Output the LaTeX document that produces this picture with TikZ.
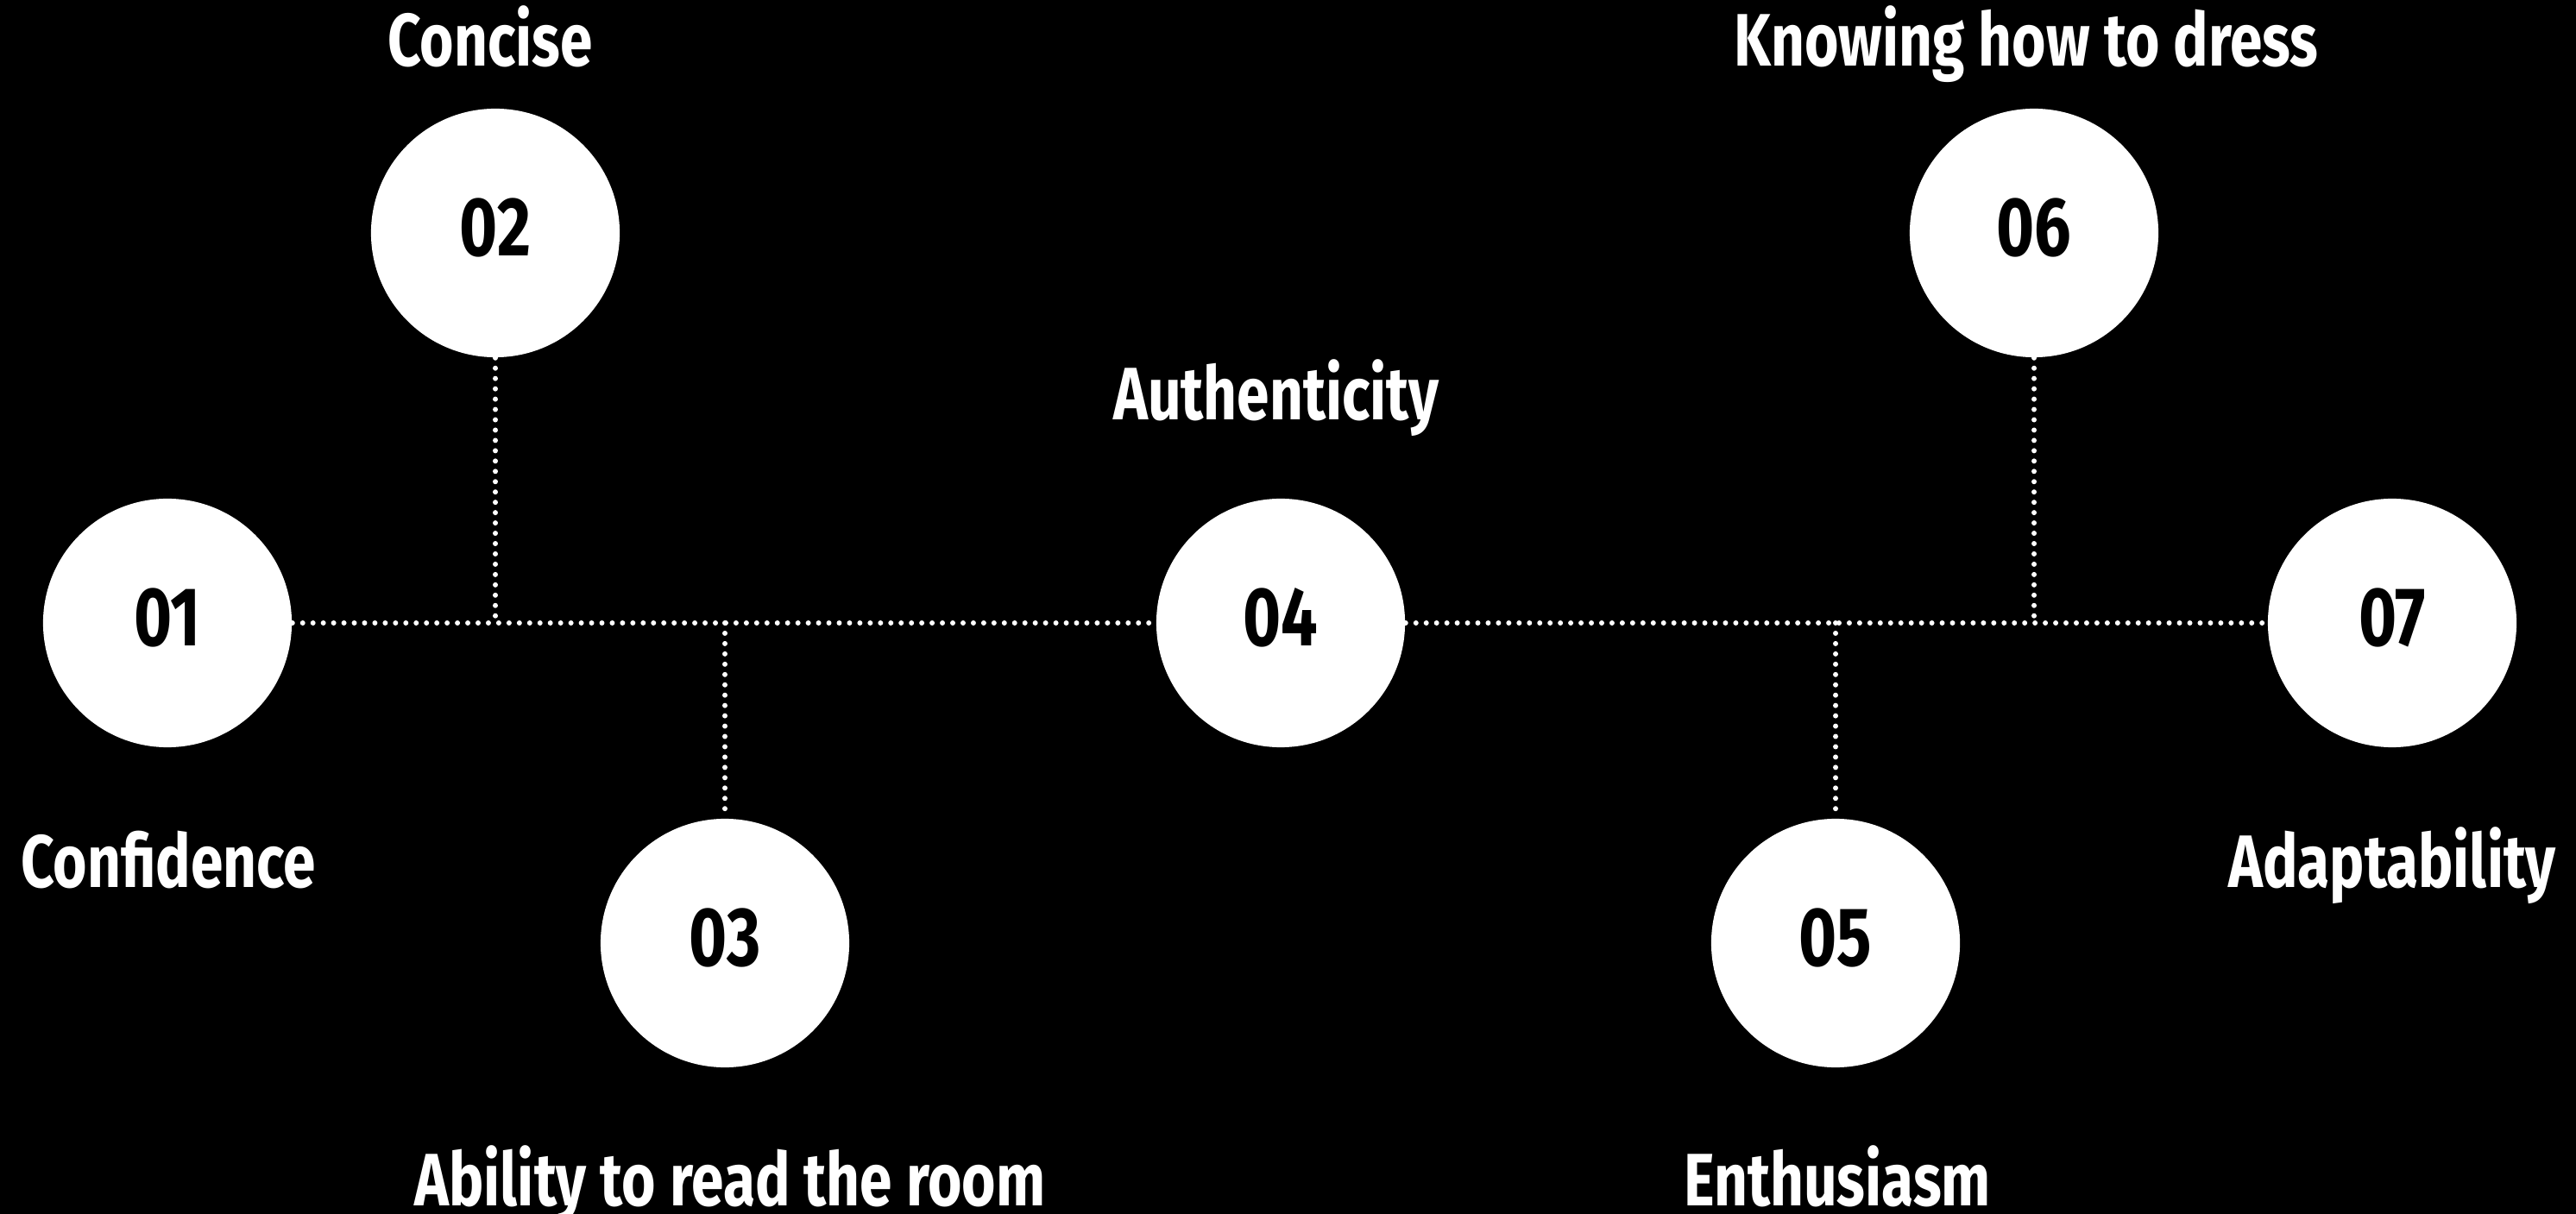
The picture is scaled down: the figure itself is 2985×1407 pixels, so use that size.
\documentclass[tikz,border=0pt]{standalone}
\usepackage{fontspec}
\newfontfamily\labfont{Fira Sans}[FakeStretch=0.785]
\newfontfamily\numfont{Fira Sans}[FakeStretch=0.78]
\begin{document}
\begin{tikzpicture}[x=0.01cm,y=-0.01cm,
  bubble/.style={circle,fill=white,draw=none,minimum size=2.88cm,inner sep=0pt,
    text=black,font=\numfont\bfseries\fontsize{27.5}{30}\selectfont,text depth=0.14cm},
  lab/.style={text=white,anchor=base,inner sep=0pt,font=\labfont\bfseries\fontsize{24.5}{28}\selectfont},
  dotline/.style={white,line width=1.7pt,line cap=round,dash pattern=on 0pt off 3.4pt}]
\fill[black] (0,0) rectangle (2985,1407);
\useasboundingbox (0,0) rectangle (2985,1407);
% circles
\node[bubble] (c1) at (194,722) {01};
\node[bubble] (c2) at (574,270) {02};
\node[bubble] (c3) at (840,1093) {03};
\node[bubble] (c4) at (1484,722) {04};
\node[bubble] (c5) at (2127,1093) {05};
\node[bubble] (c6) at (2357,270) {06};
\node[bubble] (c7) at (2772,722) {07};
% labels
\node[lab] (l1) at (195,1028) {Confidence};
\node[lab] (l2) at (568,77) {Concise};
\node[lab] (l3) at (846,1397) {Ability to read the room};
\node[lab] (l4) at (1479,487) {Authenticity};
\node[lab] (l5) at (2129,1397) {Enthusiasm};
\node[lab] (l6) at (2348,77) {Knowing how to dress};
\node[lab] (l7) at (2772,1028) {Adaptability};
% connectors
\coordinate (j2) at (c2.south |- c1.east);
\coordinate (j3) at (c3.north |- c1.east);
\coordinate (j5) at (c5.north |- c4.east);
\coordinate (j6) at (c6.south |- c4.east);
\draw[dotline] (c1.east) -- (c4.west);
\draw[dotline] (c4.east) -- (c7.west);
\draw[dotline] (c2.south) -- (j2);
\draw[dotline] (j3) -- (c3.north);
\draw[dotline] (c6.south) -- (j6);
\draw[dotline] (j5) -- (c5.north);
\end{tikzpicture}
\end{document}
